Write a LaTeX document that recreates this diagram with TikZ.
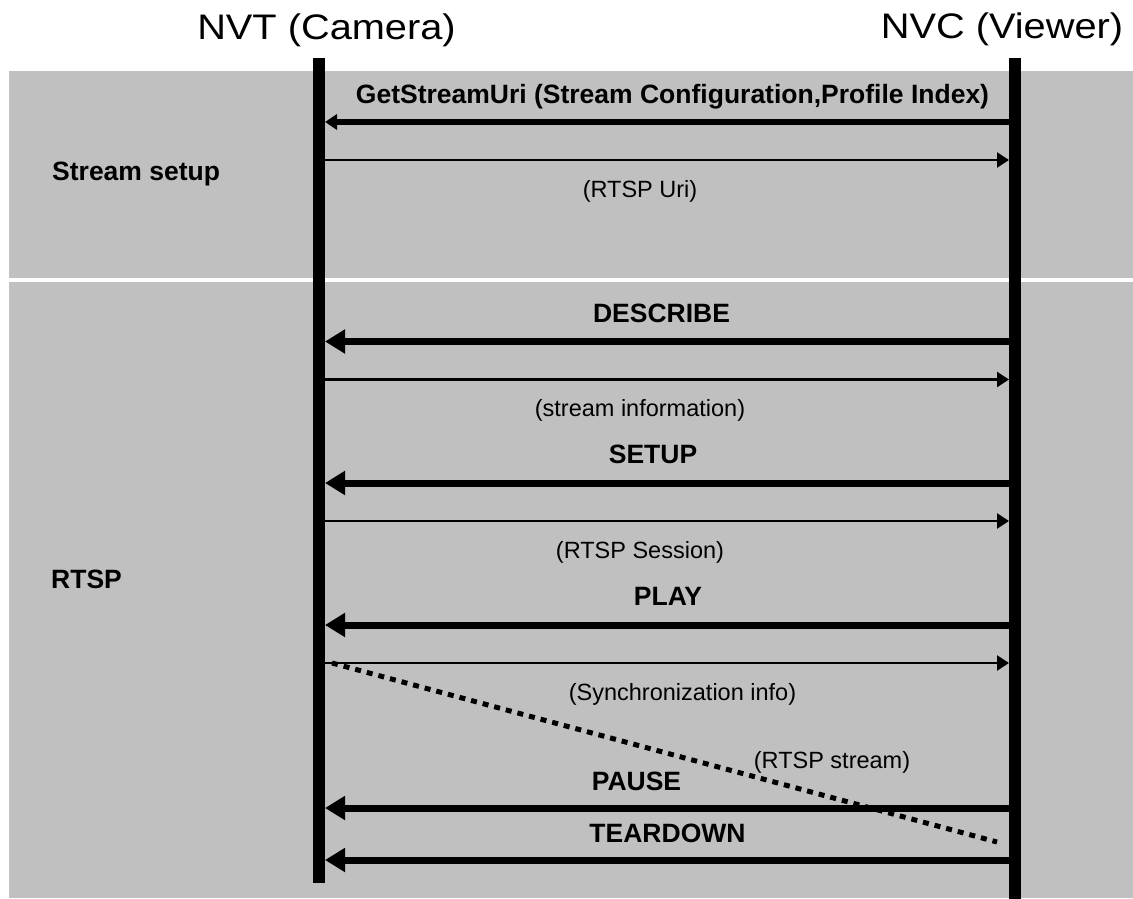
\documentclass[tikz,border=0pt]{standalone}
\usepackage{fontspec}
\setmainfont{Liberation Sans}
\newfontfamily\headfont[FakeStretch=1.12]{Liberation Sans}
\usetikzlibrary{arrows.meta}
\definecolor{bandgray}{HTML}{C0C0C0}

\begin{document}
\begin{tikzpicture}[
    x=1pt, y=-1pt,
    every node/.style={inner sep=0pt, anchor=base},
    head/.style={font=\headfont\fontsize{35.5}{40}\selectfont},
    msg/.style={font=\bfseries\fontsize{26.5}{30}\selectfont},
    ans/.style={font=\fontsize{23.5}{28}\selectfont},
    section/.style={msg, anchor=base west},
    lifeline/.style={line width=12pt},
    request/.style={line width=7pt, -{Triangle[length=20pt,width=23pt]}},
    small/.style={line width=6pt, -{Triangle[length=12pt,width=15pt]}},
    reply/.style={line width=2.5pt, -{Triangle[length=12pt,width=15pt]}},
    stream/.style={line width=5pt, dash pattern=on 6pt off 6pt},
  ]
  \useasboundingbox (0,0) rectangle (1133,899);
  % background bands
  \fill[bandgray] (9,71) rectangle (1133,278);
  \fill[bandgray] (9,282) rectangle (1133,898);

  % lifelines
  \coordinate (nvt-top) at (318.5,58);
  \coordinate (nvt-bot) at (318.5,883);
  \coordinate (nvc-top) at (1015,58);
  \coordinate (nvc-bot) at (1015,899);
  \draw[lifeline] (nvt-top) -- (nvt-bot);
  \draw[lifeline] (nvc-top) -- (nvc-bot);
  \node[head] (nvt) at (326.5,40) {NVT (Camera)};
  \node[head] (nvc) at (1002,39) {NVC (Viewer)};

  % message end points on both lifelines
  \foreach \name/\y in {get/122, uri/160, desc/341.5, info/379.5, setup/483,
      sess/521, play/625, sync/663, pause/808, tear/860} {
    \coordinate (nvt-\name) at (325,\y);
    \coordinate (nvc-\name) at (1009,\y);
  }

  % requests (viewer -> camera)
  \draw[small] (nvc-get) -- (nvt-get);
  \foreach \name in {desc, setup, play, pause, tear} {
    \draw[request] (nvc-\name) -- (nvt-\name);
  }
  % replies (camera -> viewer)
  \foreach \name in {uri, info, sess, sync} {
    \draw[reply] (nvt-\name) -- (nvc-\name);
  }

  % media stream
  \coordinate (stream-start) at (332,663);
  \coordinate (stream-end) at (997,842);
  \draw[stream] (stream-start) -- (stream-end);

  % labels
  \node[section] (setup-sec) at (52,180) {Stream setup};
  \node[section] (rtsp-sec) at (51,588) {RTSP};
  \node[msg] (get-lbl) at (672.5,103) {GetStreamUri (Stream Configuration,Profile Index)};
  \node[ans] (uri-lbl) at (640,197) {(RTSP Uri)};
  \node[msg] (desc-lbl) at (661.5,322) {DESCRIBE};
  \node[ans] (info-lbl) at (640,416.5) {(stream information)};
  \node[msg] (setup-lbl) at (653,463.5) {SETUP};
  \node[ans] (sess-lbl) at (640,558) {(RTSP Session)};
  \node[msg] (play-lbl) at (668,605.5) {PLAY};
  \node[ans] (sync-lbl) at (682.5,700) {(Synchronization info)};
  \node[ans] (stream-lbl) at (832,768) {(RTSP stream)};
  \node[msg] (pause-lbl) at (636.5,790) {PAUSE};
  \node[msg] (tear-lbl) at (667.5,842) {TEARDOWN};
\end{tikzpicture}
\end{document}
